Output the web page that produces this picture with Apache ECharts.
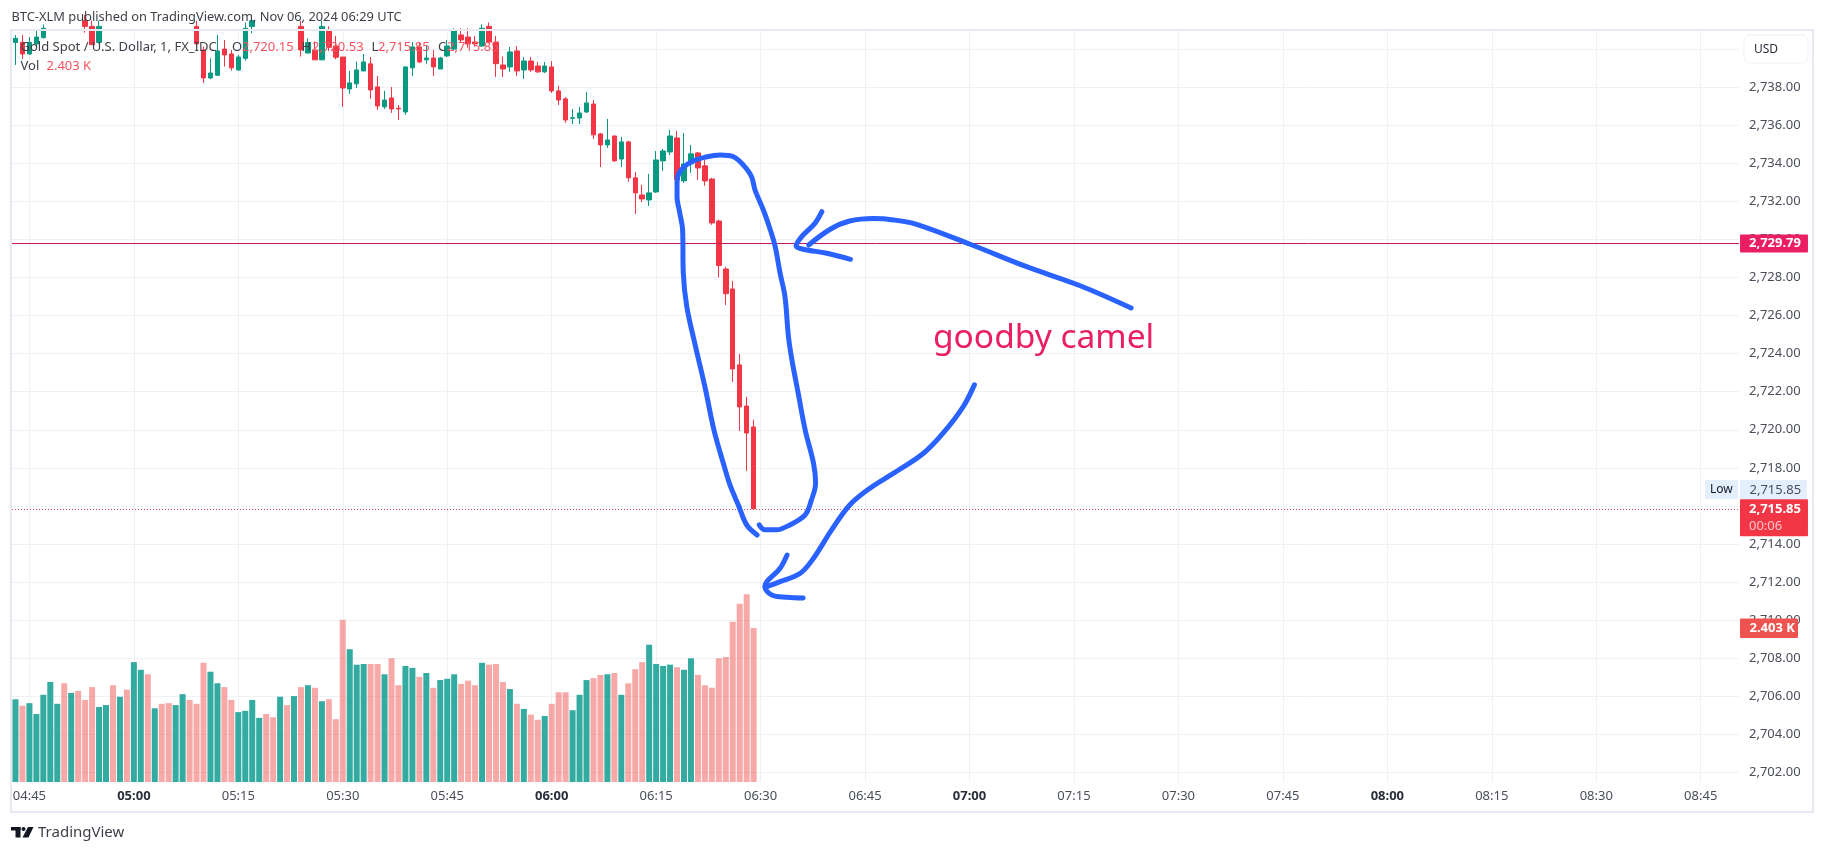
<!DOCTYPE html>
<html>
<head>
<meta charset="utf-8">
<script src="https://cdn.jsdelivr.net/npm/echarts@6/dist/echarts.min.js"></script>
<style>
  html, body { margin: 0; padding: 0; background: #fff; }
  #main { width: 1824px; height: 852px; }
</style>
</head>
<body>
<div id="main"></div>
<script>
// 1 minute bars, 04:43 to 06:29. null = candle sits above the visible price range
const opens = [
  2740.35, 2740.36, 2739.75, 2740.28, 2740.61, null, null, null, null, null,
  2741.5, 2741.2, 2740.36, null, null, null, null, null, null, null,
  null, null, null, null, null, null, 2741.2, 2739.96, 2738.49, 2738.63,
  2740.01, 2739.75, 2738.91, 2739.52, 2741.2, null, null, null, null, null,
  null, 2741.2, 2739.8, 2739.96, 2739.44, 2740.98, 2740.17, 2739.59, 2737.91, 2738.18,
  2738.86, 2739.23, 2738.02, 2736.97, 2737.44, 2736.9, 2736.7, 2739.02, 2740.12, 2739.44,
  2739.54, 2738.96, 2739.65, 2740.01, 2740.75, 2740.64, 2740.38, 2740.17, 2741.2, 2740.38,
  2739.17, 2739.07, 2739.91, 2738.91, 2739.38, 2739.12, 2738.81, 2739.07, 2737.81, 2737.39,
  2736.37, 2736.39, 2736.7, 2737.12, 2735.55, 2734.97, 2735.44, 2734.23, 2735.13, 2733.24,
  2732.34, 2732.08, 2732.5, 2734.13, 2734.6, 2735.34, 2733.08, 2733.97, 2734.55, 2733.87,
  2733.18, 2730.97, 2728.45, 2727.4, 2723.41, 2721.25, 2720.15
];
const closes = [
  2740.57, 2739.75, 2740.36, 2740.64, 2741.1, null, null, null, null, null,
  2741.2, 2740.24, 2741.2, null, null, null, null, null, null, null,
  null, null, null, null, null, null, 2740.28, 2738.49, 2738.75, 2739.91,
  2739.7, 2739.02, 2739.59, 2741.1, 2741.5, null, null, null, null, null,
  null, 2739.96, 2740.35, 2739.44, 2741.2, 2740.1, 2739.58, 2737.96, 2738.23, 2738.91,
  2739.33, 2737.86, 2737.02, 2737.33, 2736.86, 2736.86, 2739.07, 2740.12, 2739.33, 2739.54,
  2739.07, 2739.54, 2740.17, 2740.96, 2740.49, 2740.28, 2740.28, 2741.1, 2740.38, 2739.24,
  2738.96, 2739.86, 2738.86, 2739.38, 2738.91, 2738.81, 2739.12, 2737.81, 2737.33, 2736.28,
  2736.4, 2736.65, 2737.18, 2735.5, 2734.97, 2735.23, 2734.13, 2735.13, 2733.24, 2732.45,
  2732.13, 2732.45, 2734.18, 2734.65, 2735.44, 2733.13, 2733.97, 2734.5, 2733.76, 2733.08,
  2730.87, 2728.63, 2727.15, 2723.2, 2721.2, 2719.83, 2715.85
];
const lows = [
  2739.17, 2739.49, 2739.7, 2740.14, 2740.56, null, null, null, null, null,
  2740.87, 2740.24, 2740.3, null, null, null, null, null, null, null,
  null, null, null, null, null, null, 2740.28, 2738.23, 2738.42, 2738.6,
  2739.09, 2738.88, 2738.88, 2739.4, 2740.84, null, null, null, null, null,
  null, 2739.61, 2739.78, 2739.44, 2739.44, 2739.9, 2739.47, 2736.97, 2737.65, 2737.96,
  2738.84, 2737.39, 2736.81, 2736.86, 2736.65, 2736.28, 2736.55, 2738.6, 2739.28, 2739.23,
  2738.6, 2738.96, 2739.59, 2739.96, 2740.38, 2740.08, 2740.14, 2740.12, 2740.31, 2738.54,
  2738.54, 2738.81, 2738.6, 2738.44, 2738.81, 2738.75, 2738.75, 2737.7, 2737.07, 2736.13,
  2736.07, 2736.07, 2736.65, 2735.28, 2733.81, 2734.81, 2734.08, 2733.81, 2733.03, 2731.34,
  2731.97, 2731.76, 2732.45, 2733.6, 2734.44, 2733.13, 2732.97, 2733.5, 2733.13, 2732.82,
  2730.77, 2728.0, 2726.56, 2722.51, 2719.94, 2717.84, 2715.85
];
const highs = [
  2740.75, 2740.75, 2740.64, 2740.98, 2741.3, null, null, null, null, null,
  2741.8, 2741.5, 2741.5, null, null, null, null, null, null, null,
  null, null, null, null, null, null, 2741.5, 2740.14, 2739.52, 2740.75,
  2740.49, 2739.96, 2739.7, 2741.4, 2741.8, null, null, null, null, null,
  null, 2741.5, 2740.57, 2740.4, 2741.5, 2741.2, 2740.7, 2739.59, 2738.86, 2739.35,
  2739.75, 2739.59, 2738.6, 2737.81, 2738.02, 2737.07, 2739.09, 2740.38, 2740.33, 2740.22,
  2739.96, 2739.6, 2740.49, 2741.1, 2741.1, 2741.1, 2740.7, 2741.3, 2741.4, 2740.7,
  2739.61, 2740.12, 2740.17, 2739.59, 2739.59, 2739.33, 2739.33, 2739.38, 2738.07, 2737.49,
  2736.86, 2736.97, 2737.75, 2737.33, 2735.6, 2736.34, 2735.46, 2735.39, 2735.18, 2733.55,
  2732.87, 2733.45, 2734.65, 2734.76, 2735.76, 2735.71, 2735.6, 2734.97, 2734.6, 2734.18,
  2733.24, 2731.05, 2728.56, 2727.82, 2723.98, 2721.73, 2720.53
];
// volume in thousands, 1 = green bar, 0 = red bar
const volumes = [
  1.29, 1.19, 1.23, 1.06, 1.36, 1.56, 1.22, 1.54, 1.39, 1.42,
  1.28, 1.48, 1.17, 1.2, 1.51, 1.33, 1.44, 1.87, 1.75, 1.68,
  1.15, 1.22, 1.23, 1.2, 1.37, 1.28, 1.22, 1.86, 1.72, 1.54,
  1.48, 1.28, 1.09, 1.11, 1.28, 1.0, 1.06, 1.01, 1.33, 1.2,
  1.34, 1.48, 1.51, 1.47, 1.26, 1.29, 0.98, 2.53, 2.07, 1.83,
  1.84, 1.84, 1.84, 1.68, 1.93, 1.51, 1.81, 1.78, 1.64, 1.7,
  1.47, 1.59, 1.61, 1.68, 1.53, 1.58, 1.51, 1.86, 1.83, 1.84,
  1.56, 1.45, 1.22, 1.14, 1.05, 0.97, 1.03, 1.22, 1.4, 1.4,
  1.12, 1.36, 1.59, 1.62, 1.67, 1.68, 1.7, 1.36, 1.54, 1.76,
  1.87, 2.14, 1.84, 1.81, 1.83, 1.79, 1.75, 1.93, 1.67, 1.51,
  1.47, 1.93, 1.95, 2.5, 2.78, 2.93, 2.403
];
const volumeUp = [
  1, 0, 1, 1, 1, 1, 1, 0, 1, 0,
  0, 0, 1, 1, 0, 1, 0, 1, 1, 0,
  1, 0, 0, 1, 1, 0, 0, 0, 1, 1,
  0, 0, 1, 1, 1, 1, 0, 0, 1, 0,
  1, 0, 1, 0, 1, 0, 0, 0, 1, 1,
  1, 0, 0, 1, 0, 0, 1, 1, 0, 1,
  0, 1, 1, 1, 0, 0, 0, 1, 0, 0,
  0, 1, 0, 1, 0, 0, 1, 0, 0, 0,
  1, 1, 1, 0, 0, 1, 0, 1, 0, 0,
  0, 1, 1, 1, 1, 0, 1, 1, 0, 0,
  0, 0, 0, 0, 0, 0, 0
];

const priceTicks = [2702, 2704, 2706, 2708, 2710, 2712, 2714, 2716, 2718, 2720,
  2722, 2724, 2726, 2728, 2730, 2732, 2734, 2736, 2738, 2740];
const timeTicks = ['04:45', '05:00', '05:15', '05:30', '05:45', '06:00', '06:15', '06:30', '06:45',
  '07:00', '07:15', '07:30', '07:45', '08:00', '08:15', '08:30', '08:45'];
const alertPrice = 2729.79;
const lastPrice = 2715.85;

// hand drawn ink, [bar number, price]
const inkLoop = [
  [106.5, 2714.47], [105, 2715], [103.8, 2716.05], [102.6, 2717.1], [101.65, 2718.24], [100.3, 2719.99],
  [99, 2722.27], [97.6, 2724.46], [96.4, 2726.47], [95.9, 2728.23], [95.8, 2730.5], [95.4, 2731.39],
  [95, 2732.25], [95, 2732.96], [95.4, 2733.56], [97.1, 2734.09], [99.3, 2734.35], [101.2, 2734.44],
  [103.1, 2734.35], [104.5, 2733.92], [105.7, 2733.3], [106.2, 2732.6], [107.4, 2731.55], [108.4, 2730.5],
  [109.1, 2729.62], [109.8, 2728.23], [110.5, 2727], [111, 2724.89], [111.5, 2723.67], [112.4, 2721.92],
  [113.4, 2719.99], [114.6, 2718.24], [114.9, 2717.19], [114.3, 2716.31], [113.4, 2715.53], [111.2, 2715],
  [109.3, 2714.74], [107.6, 2714.74], [106.8, 2715]
];
const inkTopHead = [
  [115.8, 2731.46], [114.8, 2730.85], [112.9, 2730.15], [112.1, 2729.66], [113.1, 2729.49], [116.5, 2729.28], [119.9, 2728.96]
];
const inkTopShaft = [
  [160.2, 2726.4], [152.9, 2727.57], [145.2, 2728.57], [137.1, 2729.75], [129.4, 2730.8],
  [126.1, 2731.03], [123.2, 2731.1], [119.8, 2730.97], [117, 2730.54], [113.9, 2729.71]
];
const inkLowShaft = [
  [137.7, 2722.36], [136.1, 2721.22], [133.2, 2719.82], [130.4, 2718.77], [126.1, 2717.72], [122.7, 2716.93],
  [119.8, 2716.05], [117.2, 2714.74], [114.6, 2713.25], [112.7, 2712.46], [109.8, 2712.02], [107.9, 2711.76]
];
const inkLowHead = [
  [110.8, 2713.42], [109.8, 2712.72], [107.6, 2711.76], [108.6, 2711.32], [110.8, 2711.2], [113.1, 2711.16]
];

// axis runs on past the last bar up to 08:50
const barTimes = [];
for (let m = 4 * 60 + 43; m < 4 * 60 + 43 + 248; m++) {
  barTimes.push(String(Math.floor(m / 60)).padStart(2, '0') + ':' + String(m % 60).padStart(2, '0'));
}

const uiFont = '"Noto Sans", sans-serif';
const up = '#089981', down = '#f23645';
const gridColor = '#f0f1f4';

const candleData = opens.map((o, i) => o === null ? ['-', '-', '-', '-'] : [o, closes[i], lows[i], highs[i]]);
const volumeData = volumes.map((v, i) => ({
  value: v,
  itemStyle: { color: volumeUp[i] ? 'rgba(38,166,154,.94)' : 'rgba(239,83,80,.5)' }
}));

function inkSeries(points) {
  return {
    type: 'line', xAxisIndex: 1, yAxisIndex: 0, data: points, smooth: 0.35, symbol: 'none', z: 6,
    lineStyle: { color: '#2962ff', width: 5, cap: 'round', join: 'round' }, silent: true
  };
}

function txt(x, y, text, color, size, extra) {
  return {
    type: 'text', z: 20, x: x, y: y, silent: true,
    style: Object.assign({ text: text, fill: color, font: size + 'px ' + uiFont, verticalAlign: 'middle' }, extra || {})
  };
}

const myChart = echarts.init(document.getElementById('main'));

const option = {
  animation: false,
  backgroundColor: '#fff',
  textStyle: { fontFamily: uiFont },
  grid: { left: 12, right: 85, top: 30, bottom: 70 },
  xAxis: [{
    type: 'category',
    data: barTimes,
    boundaryGap: true,
    axisLine: { show: false },
    splitLine: { show: false },
    // long inside ticks work as the vertical grid, they sit on bar centres
    axisTick: {
      show: true, inside: true, length: 752, alignWithLabel: true,
      interval: (i, v) => timeTicks.includes(v),
      lineStyle: { color: gridColor, width: 1 }
    },
    axisLabel: {
      interval: (i, v) => timeTicks.includes(v),
      margin: 8,
      fontSize: 13,
      color: '#4a4e59',
      formatter: v => v.endsWith(':00') ? '{h|' + v + '}' : v,
      rich: { h: { fontSize: 13, fontWeight: 'bold', color: '#2a2e39' } }
    }
  }, {
    type: 'value', min: -0.5, max: 247.5, show: false, splitLine: { show: false }
  }],
  yAxis: [{
    type: 'value',
    position: 'right',
    min: 2701.49,
    max: 2741.01,
    scale: true,
    axisLine: { show: false },
    axisTick: { show: false, customValues: priceTicks },
    splitLine: { show: true, lineStyle: { color: gridColor, width: 1 } },
    axisLabel: {
      customValues: priceTicks.slice(0, -1),
      margin: 10,
      fontSize: 13,
      color: '#4a4e59',
      formatter: v => v.toLocaleString('en-US', { minimumFractionDigits: 2, maximumFractionDigits: 2 })
    }
  }, {
    type: 'value', position: 'right', min: 0, max: 11.73, show: false, splitLine: { show: false }
  }],
  series: [{
    name: 'Vol',
    type: 'bar',
    xAxisIndex: 0,
    yAxisIndex: 1,
    barWidth: 6,
    data: volumeData,
    z: 2
  }, {
    name: 'Gold',
    type: 'candlestick',
    xAxisIndex: 0,
    yAxisIndex: 0,
    barWidth: 5,
    clip: true,
    data: candleData,
    itemStyle: { color: up, color0: down, borderColor: up, borderColor0: down, borderWidth: 1 },
    markLine: {
      silent: true,
      symbol: 'none',
      animation: false,
      data: [{
        yAxis: alertPrice,
        lineStyle: { color: '#c2185b', type: 'solid', width: 1 },
        label: {
          show: true, position: 'end', distance: 0, offset: [1, 0],
          formatter: '2,729.79', color: '#fff', fontSize: 13, fontWeight: 'bold',
          backgroundColor: '#e91e63', borderRadius: 1, padding: [3, 7, 2, 9]
        }
      }, {
        yAxis: lastPrice,
        lineStyle: { color: '#d9505c', type: [1, 2], width: 1 },
        label: {
          show: true, position: 'end', distance: 0, offset: [1, 9],
          formatter: '{a|2,715.85}\n{b|00:06}',
          backgroundColor: '#f23645', borderRadius: 1, padding: [2, 7, 2, 9],
          rich: {
            a: { color: '#fff', fontSize: 13, fontWeight: 'bold', lineHeight: 17 },
            b: { color: '#fbc6cb', fontSize: 13, lineHeight: 16 }
          }
        }
      }]
    },
    z: 3
  },
  inkSeries(inkLoop), inkSeries(inkTopHead), inkSeries(inkTopShaft), inkSeries(inkLowShaft), inkSeries(inkLowHead)],
  graphic: [
    // pane frame
    { type: 'rect', z: 15, silent: true, shape: { x: 11, y: 30, width: 1802, height: 782 }, style: { fill: 'transparent', stroke: '#e8e9f0', lineWidth: 2 } },
    // header
    txt(11.5, 17, 'BTC-XLM published on TradingView.com, Nov 06, 2024 06:29 UTC', '#3c3f47', 12.85),
    txt(20.5, 47.5, 'Gold Spot / U.S. Dollar, 1, FX_IDC', '#3c3f47', 13),
    txt(232, 47.5, 'O', '#3c3f47', 13), txt(242, 47.5, '2,720.15', '#f7525f', 13),
    txt(301.5, 47.5, 'H', '#3c3f47', 13), txt(312, 47.5, '2,720.53', '#f7525f', 13),
    txt(371.5, 47.5, 'L', '#3c3f47', 13), txt(378, 47.5, '2,715.85', '#f7525f', 13),
    txt(438, 47.5, 'C', '#3c3f47', 13), txt(447, 47.5, '2,715.85', '#f7525f', 13),
    txt(20.5, 66, 'Vol', '#3c3f47', 13), txt(46.5, 66, '2.403 K', '#f7525f', 13),
    // currency button
    { type: 'rect', z: 18, silent: true, shape: { x: 1744, y: 35, width: 64, height: 28, r: 6 }, style: { fill: '#fff', stroke: '#eeeff4', lineWidth: 1 } },
    txt(1754, 49.5, 'USD', '#2a2e39', 12),
    // low tag
    { type: 'rect', z: 18, silent: true, shape: { x: 1705, y: 480, width: 33, height: 19, r: 1 }, style: { fill: '#e3effd' } },
    { type: 'rect', z: 18, silent: true, shape: { x: 1740, y: 480, width: 67, height: 19, r: 1 }, style: { fill: '#e3effd' } },
    txt(1710, 490, 'Low', '#131722', 12),
    txt(1749.5, 490, '2,715.85', '#4a4e59', 13),
    // volume tag
    { type: 'rect', z: 18, silent: true, shape: { x: 1740, y: 618.5, width: 58, height: 19.5, r: 1 }, style: { fill: '#ef5350' } },
    txt(1749.5, 628.5, '2.403 K', '#fff', 13, { font: 'bold 13px ' + uiFont }),
    // annotation
    txt(933, 338, 'goodby camel', '#e91e63', 33.5),
    // TradingView mark
    { type: 'rect', z: 20, silent: true, shape: { x: 11, y: 827, width: 9.5, height: 3.5 }, style: { fill: '#131722' } },
    { type: 'rect', z: 20, silent: true, shape: { x: 15.5, y: 827, width: 5, height: 10.5 }, style: { fill: '#131722' } },
    { type: 'circle', z: 20, silent: true, shape: { cx: 23.5, cy: 829, r: 2 }, style: { fill: '#131722' } },
    { type: 'polygon', z: 20, silent: true, shape: { points: [[28, 827], [33.5, 827], [28.5, 837.5], [22.5, 837.5]] }, style: { fill: '#131722' } },
    txt(38, 832.5, 'TradingView', '#3c3f47', 15)
  ]
};

myChart.setOption(option);
</script>
</body>
</html>
